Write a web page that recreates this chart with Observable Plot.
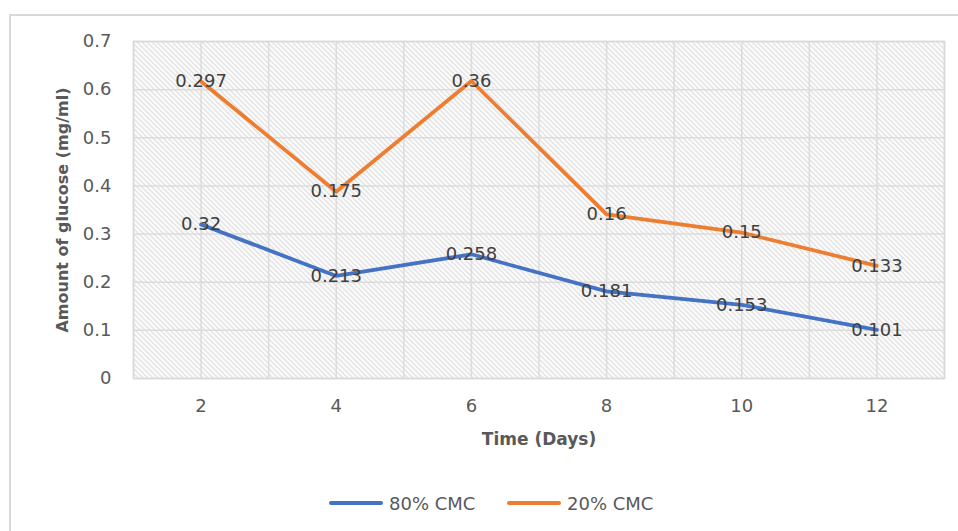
<!DOCTYPE html>
<html>
<head>
<meta charset="utf-8">
<script src="https://cdn.jsdelivr.net/npm/d3@7"></script>
<script src="https://cdn.jsdelivr.net/npm/@observablehq/plot@0.6"></script>
<style>
  html, body { margin: 0; padding: 0; background: #fff; }
  #wrap { position: relative; width: 958px; height: 531px; overflow: hidden; font-family: "DejaVu Sans", sans-serif; }
  #border { position: absolute; left: 9px; top: 14px; width: 980px; height: 560px; border: 2px solid #d9d9d9; box-sizing: border-box; }
  #chart { position: absolute; left: 0; top: 0; }
  #legend { position: absolute; left: 0; top: 490px; width: 958px; height: 26px; }
  .item { position: absolute; top: 0; display: flex; align-items: center; height: 26px; font-size: 18px; color: #595959; }
  .swatch { width: 54px; height: 4px; border-radius: 2px; margin-right: 6px; }
</style>
</head>
<body>
<div id="wrap">
  <div id="border"></div>
  <div id="chart"></div>
  <div id="legend"></div>
</div>
<script>
const days = [2, 4, 6, 8, 10, 12];
const cmc80 = [0.32, 0.213, 0.258, 0.181, 0.153, 0.101];
const cmc20 = [0.297, 0.175, 0.36, 0.16, 0.15, 0.133];
const seriesNames = ["80% CMC", "20% CMC"];
const seriesColors = ["#4472C4", "#ED7D31"];
const yTicks = [0, 0.1, 0.2, 0.3, 0.4, 0.5, 0.6, 0.7];
const xTitle = "Time (Days)";
const yTitle = "Amount of glucose (mg/ml)";

const seriesValues = [cmc80, cmc20];
const data = seriesNames.flatMap((s, i) => days.map((d, j) => ({day: d, value: seriesValues[i][j], series: s})));
const gridDays = d3.range(days[0] - 1, days[days.length - 1] + 2, 1);

const plot = Plot.plot({
  width: 958,
  height: 470,
  marginTop: 41,
  marginLeft: 133,
  marginRight: 14,
  marginBottom: 92,
  style: {background: "none", color: "#595959", fontFamily: "DejaVu Sans, sans-serif", fontSize: "18px"},
  x: {type: "linear", domain: [gridDays[0], gridDays[gridDays.length - 1]]},
  y: {domain: [yTicks[0], yTicks[yTicks.length - 1]]},
  color: {domain: seriesNames, range: seriesColors},
  marks: [
    Plot.frame({fill: "url(#hatch)", stroke: "none"}),
    Plot.gridY(yTicks, {stroke: "#dcdcdc", strokeOpacity: 1, strokeWidth: 1.5}),
    Plot.gridX(gridDays, {stroke: "#dcdcdc", strokeOpacity: 1, strokeWidth: 1.5}),
    Plot.frame({stroke: "#d9d9d9", strokeWidth: 1.5}),
    Plot.axisY({ticks: yTicks, tickSize: 0, tickPadding: 22, tickFormat: String, label: null, fontSize: 18}),
    Plot.axisX({ticks: days, tickSize: 0, tickPadding: 21, tickFormat: String, label: null, fontSize: 18}),
    Plot.lineY(data, Plot.stackY2({x: "day", y: "value", z: "series", stroke: "series", strokeWidth: 3.75, strokeLinejoin: "round"})),
    Plot.text(data, Plot.stackY2({x: "day", y: "value", z: "series", text: d => String(d.value), fill: "#404040", fontSize: 18})),
    Plot.text([yTitle], {text: d => d, frameAnchor: "left", dx: -71, rotate: -90, textAnchor: "middle", lineAnchor: "middle", fontWeight: "bold", fontSize: 16, fill: "#595959"}),
    Plot.text([xTitle], {text: d => d, frameAnchor: "bottom", dy: 61, textAnchor: "middle", lineAnchor: "middle", fontWeight: "bold", fontSize: 17, fill: "#595959"})
  ]
});

d3.select(plot).insert("defs", ":first-child").html(
  `<pattern id="hatch" patternUnits="userSpaceOnUse" width="5" height="5">
     <rect width="5" height="5" fill="#ffffff"/>
     <path d="M-1,-1 L6,6 M-1,4 L1,6 M4,-1 L6,1" stroke="#d4d4d4" stroke-width="1.1"/>
   </pattern>`
);
document.getElementById("chart").appendChild(plot);

const legendX = [329, 507];
const legend = document.getElementById("legend");
seriesNames.forEach((s, i) => {
  const item = document.createElement("div");
  item.className = "item";
  item.style.left = legendX[i] + "px";
  const sw = document.createElement("div");
  sw.className = "swatch";
  sw.style.background = seriesColors[i];
  const label = document.createElement("span");
  label.textContent = s;
  item.appendChild(sw);
  item.appendChild(label);
  legend.appendChild(item);
});
</script>
</body>
</html>
